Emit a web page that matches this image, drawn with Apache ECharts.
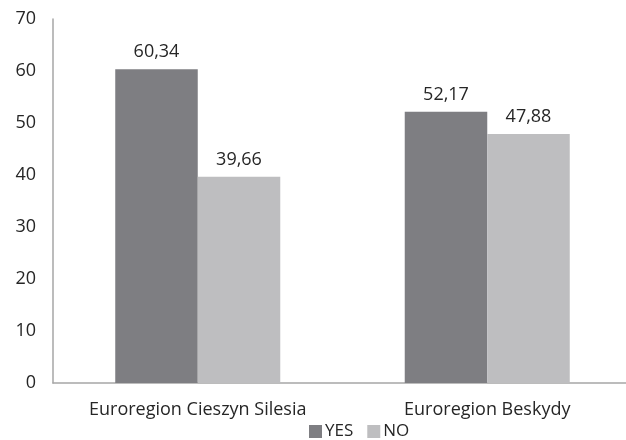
<!DOCTYPE html>
<html>
<head>
<meta charset="utf-8">
<script src="https://cdn.jsdelivr.net/npm/echarts@6/dist/echarts.min.js"></script>
<style>
  html, body { margin: 0; padding: 0; background: #fff; overflow: hidden; }
  #chart { width: 640px; height: 440px; }
</style>
</head>
<body>
<div id="chart"></div>
<script>
  const categories = ['Euroregion Cieszyn Silesia', 'Euroregion Beskydy']
  const seriesNames = ['YES', 'NO']
  const yesValues = [60.34, 52.17]
  const noValues = [39.66, 47.88]
  const yTicks = [0, 70, 10] // min, max, interval

  const fontFamily = '"Open Sans", "Liberation Sans", sans-serif'
  const textColor = '#262626'
  const colors = ['#7e7e82', '#bebec0']

  const fmt = v => v.toFixed(2).replace('.', ',')

  // div is a little wider than the window so the plot runs off the right edge like the original
  const chart = echarts.init(document.getElementById('chart'))
  chart.setOption({
    animation: false,
    textStyle: { fontFamily: fontFamily },
    grid: { left: 53, right: 8, top: 19, bottom: 57, containLabel: false },
    legend: {
      data: seriesNames,
      bottom: -5,
      left: 304,
      itemWidth: 13,
      itemHeight: 13,
      itemGap: 14,
      icon: 'rect',
      textStyle: { fontSize: 17, color: textColor, fontFamily: fontFamily, padding: [0, 0, 0, -2] }
    },
    xAxis: {
      type: 'category',
      data: categories,
      axisLine: { lineStyle: { color: '#a6a6a6', width: 1.5 } },
      axisTick: { show: false },
      axisLabel: { fontSize: 18, color: textColor, margin: 18 }
    },
    yAxis: {
      type: 'value',
      min: yTicks[0],
      max: yTicks[1],
      interval: yTicks[2],
      splitLine: { show: false },
      axisLine: { show: true, lineStyle: { color: '#a6a6a6', width: 1.5 } },
      axisTick: { show: false },
      axisLabel: { fontSize: 18, color: textColor, margin: 17 }
    },
    series: [
      {
        name: seriesNames[0],
        type: 'bar',
        data: yesValues,
        barGap: 0,
        barCategoryGap: '43%',
        itemStyle: { color: colors[0] },
        label: { show: true, position: 'top', distance: 8, fontSize: 18, color: textColor, formatter: p => fmt(p.value) }
      },
      {
        name: seriesNames[1],
        type: 'bar',
        data: noValues,
        itemStyle: { color: colors[1] },
        label: { show: true, position: 'top', distance: 8, fontSize: 18, color: textColor, formatter: p => fmt(p.value) }
      }
    ]
  })
</script>
</body>
</html>
